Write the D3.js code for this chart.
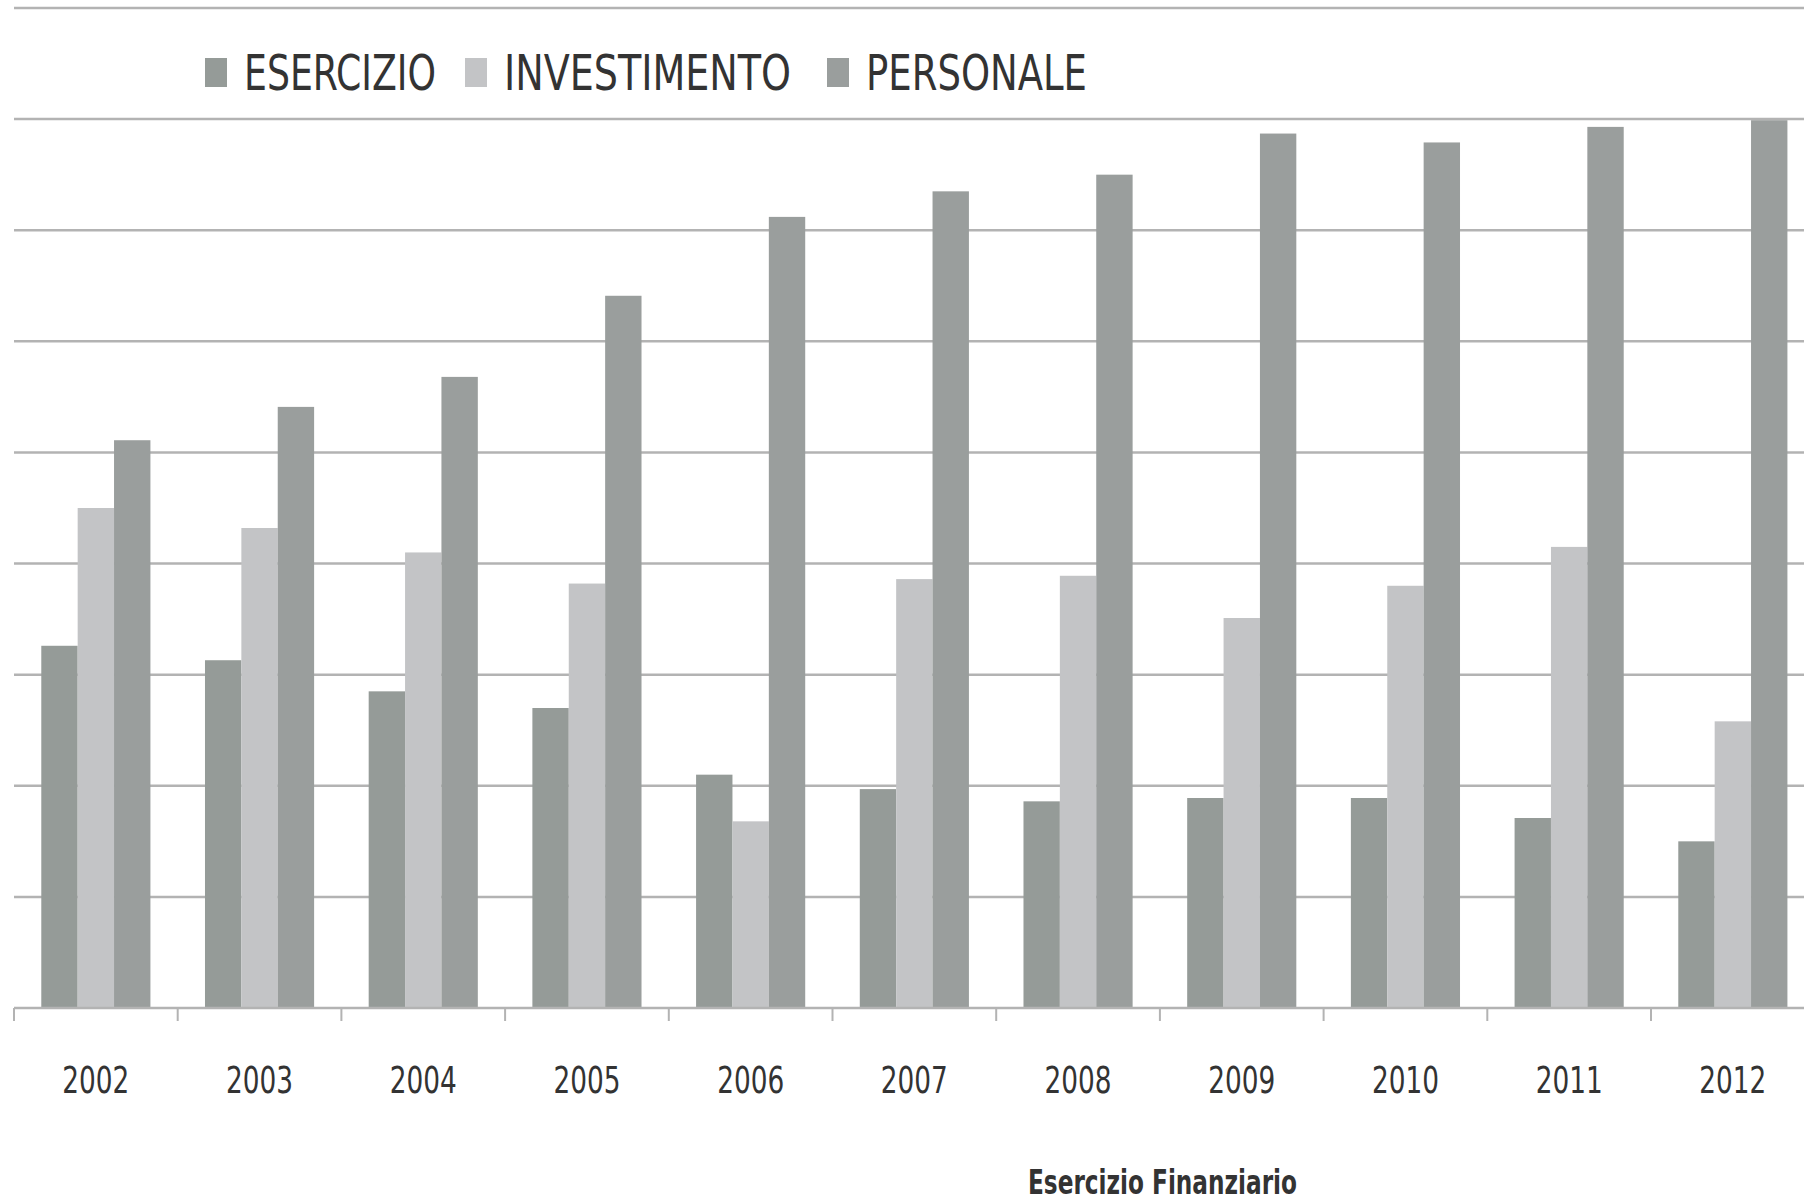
<!DOCTYPE html>
<html>
<head>
    <meta charset="UTF-8">
    <title>Esercizio Finanziario</title>
    <style>
        body {
            margin: 0;
            background-color: #FFFFFF;
        }
        svg {
            background-color: #FFFFFF;
            display: block;
        }
        text {
            font-family: "Liberation Sans Narrow", "DejaVu Sans Condensed", "Open Sans", sans-serif;
            fill: #333333;
        }
    </style>
</head>
<body>
    <div id="graph-container"></div>
    <script src="https://cdn.jsdelivr.net/npm/d3@7/dist/d3.min.js"></script>
    <script>
        // values, in gridline units (no value labels in source)
        let years = ["2002", "2003", "2004", "2005", "2006", "2007", "2008", "2009", "2010", "2011", "2012"];
        let series = ["ESERCIZIO", "INVESTIMENTO", "PERSONALE"];
        let esercizio = [3.26, 3.13, 2.85, 2.70, 2.10, 1.97, 1.86, 1.89, 1.89, 1.71, 1.50];
        let investimento = [4.50, 4.32, 4.10, 3.82, 1.68, 3.86, 3.89, 3.51, 3.80, 4.15, 2.58];
        let personale = [5.11, 5.41, 5.68, 6.41, 7.12, 7.35, 7.50, 7.87, 7.79, 7.93, 7.99];
        let gridTicks = [1, 2, 3, 4, 5, 6, 7, 8, 9];
        let axisTitle = "Esercizio Finanziario";

        let colors = ["#959b98", "#c3c4c6", "#9a9e9d"];
        let legendWidths = [192, 287, 221];
        let legendX = [205, 465, 827];

        let totalWidth = 1804,
            totalHeight = 1203;
        let margin = { top: 8, left: 14 },
            width = 11 * 163.7,
            height = 1000;

        let x0 = d3.scaleBand()
            .domain(years)
            .range([0, width])
            .paddingInner(0)
            .paddingOuter(0);
        // Excel style 150% gap: bars take 3 / 4.5 of the band
        let x1 = d3.scaleBand()
            .domain(series)
            .range([0, x0.bandwidth()])
            .paddingInner(0)
            .paddingOuter(0.75);
        let y = d3.scaleLinear()
            .domain([0, 9])
            .range([height, 0]);

        let svg = d3.select("#graph-container").append("svg")
            .attr("width", totalWidth)
            .attr("height", totalHeight);
        let g = svg.append("g")
            .attr("transform", "translate(" + margin.left + "," + margin.top + ")");

        // gridlines
        g.selectAll(".grid")
            .data(gridTicks)
            .enter()
            .append("line")
            .attr("class", "grid")
            .attr("x1", 0)
            .attr("x2", totalWidth)
            .attr("y1", d => y(d))
            .attr("y2", d => y(d))
            .attr("stroke", "#b3b3b3")
            .attr("stroke-width", 2.5);

        // bars
        let data = years.map((yr, i) => ({
            year: yr,
            values: [esercizio[i], investimento[i], personale[i]]
        }));

        let groups = g.selectAll(".year")
            .data(data)
            .enter()
            .append("g")
            .attr("class", "year")
            .attr("transform", d => "translate(" + x0(d.year) + ",0)");

        groups.selectAll("rect")
            .data(d => d.values.map((v, k) => ({ key: series[k], value: v, k: k })))
            .enter()
            .append("rect")
            .attr("x", d => x1(d.key))
            .attr("width", x1.bandwidth())
            .attr("y", d => y(d.value))
            .attr("height", d => y(0) - y(d.value))
            .attr("fill", d => colors[d.k]);

        // category axis: line, ticks on band edges, labels at centres
        g.append("line")
            .attr("x1", 0)
            .attr("x2", totalWidth)
            .attr("y1", y(0))
            .attr("y2", y(0))
            .attr("stroke", "#b3b3b3")
            .attr("stroke-width", 2.5);

        g.selectAll(".tick-mark")
            .data(years.concat(["end"]))
            .enter()
            .append("line")
            .attr("class", "tick-mark")
            .attr("x1", (d, i) => i * x0.step())
            .attr("x2", (d, i) => i * x0.step())
            .attr("y1", y(0))
            .attr("y2", y(0) + 13)
            .attr("stroke", "#b3b3b3")
            .attr("stroke-width", 2);

        g.selectAll(".year-label")
            .data(years)
            .enter()
            .append("text")
            .attr("class", "year-label")
            .attr("x", d => x0(d) + x0.bandwidth() / 2)
            .attr("y", y(0) + 85)
            .attr("text-anchor", "middle")
            .attr("font-size", 38)
            .attr("textLength", 67)
            .attr("lengthAdjust", "spacingAndGlyphs")
            .text(d => d);

        svg.append("text")
            .attr("x", 1028)
            .attr("y", 1194)
            .attr("font-size", 34)
            .attr("font-weight", "bold")
            .attr("textLength", 269)
            .attr("lengthAdjust", "spacingAndGlyphs")
            .text(axisTitle);

        // legend
        let legend = svg.selectAll(".legend")
            .data(series)
            .enter()
            .append("g")
            .attr("class", "legend")
            .attr("transform", (d, i) => "translate(" + legendX[i] + ",0)");

        legend.append("rect")
            .attr("x", 0)
            .attr("y", 58)
            .attr("width", 22)
            .attr("height", 29)
            .attr("fill", (d, i) => colors[i]);

        legend.append("text")
            .attr("x", 39)
            .attr("y", 90)
            .attr("font-size", 50)
            .attr("textLength", (d, i) => legendWidths[i])
            .attr("lengthAdjust", "spacingAndGlyphs")
            .text(d => d);
    </script>
</body>
</html>
